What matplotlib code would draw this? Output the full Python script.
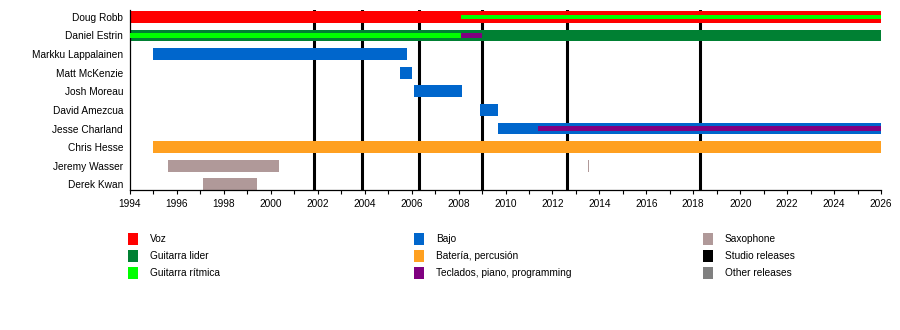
import matplotlib
matplotlib.use("Agg")
import matplotlib.pyplot as plt
from matplotlib.patches import Rectangle

plt.rcParams['font.family'] = ['Liberation Sans', 'DejaVu Sans']

# ---------------- data ----------------
members = ["Doug Robb", "Daniel Estrin", "Markku Lappalainen", "Matt McKenzie",
           "Josh Moreau", "David Amezcua", "Jesse Charland", "Chris Hesse",
           "Jeremy Wasser", "Derek Kwan"]

bar_member = ["Doug Robb", "Doug Robb",
              "Daniel Estrin", "Daniel Estrin", "Daniel Estrin",
              "Markku Lappalainen", "Matt McKenzie", "Josh Moreau",
              "David Amezcua", "Jesse Charland", "Jesse Charland",
              "Chris Hesse", "Jeremy Wasser", "Jeremy Wasser", "Derek Kwan"]
bar_role = ["Voz", "Guitarra rítmica",
            "Guitarra lider", "Guitarra rítmica", "Teclados, piano, programming",
            "Bajo", "Bajo", "Bajo",
            "Bajo", "Bajo", "Teclados, piano, programming",
            "Batería, percusión", "Saxophone", "Saxophone", "Saxophone"]
bar_start = [1994.0, 2008.1,
             1994.0, 1994.0, 2008.1,
             1995.0, 2005.5, 2006.1,
             2008.9, 2009.7, 2011.4,
             1995.0, 1995.6, 2013.5, 1997.1]
bar_end = [2026.1, 2026.1,
           2026.1, 2008.1, 2009.0,
           2005.8, 2006.0, 2008.15,
           2009.7, 2026.1, 2026.1,
           2026.1, 2000.35, 2013.55, 1999.4]

studio_releases = [2001.85, 2003.9, 2006.3, 2009.0, 2012.6, 2018.3]
other_releases = []

legend_labels = ["Voz", "Guitarra lider", "Guitarra rítmica",
                 "Bajo", "Batería, percusión", "Teclados, piano, programming",
                 "Saxophone", "Studio releases", "Other releases"]

# ---------------- styles ----------------
role_color = {
    "Voz": "#FF0000",
    "Guitarra lider": "#008033",
    "Guitarra rítmica": "#00FF00",
    "Bajo": "#0066CC",
    "Batería, percusión": "#FFA020",
    "Teclados, piano, programming": "#800080",
    "Saxophone": "#B09999",
    "Studio releases": "#000000",
    "Other releases": "#808080",
}
inner_roles = {"Guitarra rítmica", "Teclados, piano, programming"}
FULL_H = 0.64
INNER_H = 0.22
FS = 7.3

fig = plt.figure(figsize=(9, 3.3), dpi=100)
ax = fig.add_axes([130 / 900, 1 - 190.3 / 330, (881 - 130) / 900, (190.3 - 10) / 330])

# release lines
for x in studio_releases:
    ax.axvline(x, color=role_color["Studio releases"], lw=2.2, zorder=1)
for x in other_releases:
    ax.axvline(x, color=role_color["Other releases"], lw=2.2, zorder=1)

ypos = {m: i for i, m in enumerate(members)}
# full bars first, inner on top
for pass_inner in (False, True):
    for m, r, s, e in zip(bar_member, bar_role, bar_start, bar_end):
        if (r in inner_roles) != pass_inner:
            continue
        h = INNER_H if pass_inner else FULL_H
        ax.barh(ypos[m], e - s, left=s, height=h, color=role_color[r],
                linewidth=0, zorder=3 if pass_inner else 2)

ax.set_xlim(1994, 2026)
ax.set_ylim(len(members) - 1 + 0.32, -0.37)
ax.set_yticks(range(len(members)))
ax.set_yticklabels(members, fontsize=FS)
ax.tick_params(axis='y', length=0, pad=5)
ax.set_xticks(range(1994, 2027, 2))
ax.set_xticks(range(1994, 2027, 1), minor=True)
ax.tick_params(axis='x', which='both', length=3, width=0.8, labelsize=FS, pad=3.5)
for sp in ("top", "right"):
    ax.spines[sp].set_visible(False)
for sp in ("left", "bottom"):
    ax.spines[sp].set_linewidth(0.9)

# legend (3 columns x 3 rows)
col_x = [128, 414, 703]
row_y = [239, 256, 273]
for i, lab in enumerate(legend_labels):
    cx = col_x[i // 3]
    cy = row_y[i % 3]
    fig.add_artist(Rectangle((cx / 900, 1 - (cy + 6) / 330), 10 / 900, 12 / 330,
                             transform=fig.transFigure, color=role_color[lab], lw=0))
    fig.text((cx + 22) / 900, 1 - cy / 330, lab, fontsize=FS, va='center', ha='left')

fig.savefig("out.png", dpi=100)
